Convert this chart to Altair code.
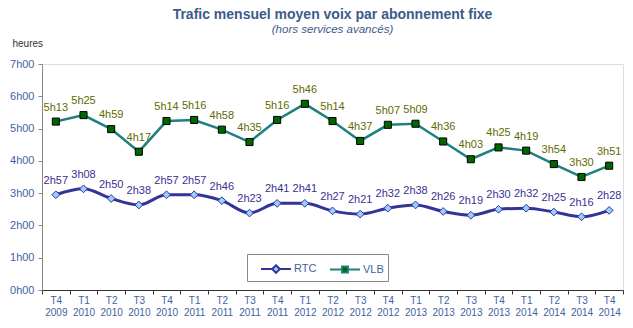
import altair as alt
import pandas as pd

periods = ["T4 2009", "T1 2010", "T2 2010", "T3 2010", "T4 2010", "T1 2011", "T2 2011",
           "T3 2011", "T4 2011", "T1 2012", "T2 2012", "T3 2012", "T4 2012", "T1 2013",
           "T2 2013", "T3 2013", "T4 2013", "T1 2014", "T2 2014", "T3 2014", "T4 2014"]
rtc_labels = ["2h57", "3h08", "2h50", "2h38", "2h57", "2h57", "2h46", "2h23", "2h41", "2h41",
              "2h27", "2h21", "2h32", "2h38", "2h26", "2h19", "2h30", "2h32", "2h25", "2h16", "2h28"]
vlb_labels = ["5h13", "5h25", "4h59", "4h17", "5h14", "5h16", "4h58", "4h35", "5h16", "5h46",
              "5h14", "4h37", "5h07", "5h09", "4h36", "4h03", "4h25", "4h19", "3h54", "3h30", "3h51"]
series_names = ["RTC", "VLB"]


def to_hours(s):
    h, m = s.split("h")
    return int(h) + int(m) / 60.0


rows = []
for p, r, v in zip(periods, rtc_labels, vlb_labels):
    rows.append({"period": p, "series": "RTC", "hours": to_hours(r), "label": r})
    rows.append({"period": p, "series": "VLB", "hours": to_hours(v), "label": v})
df = pd.DataFrame(rows)

FONT = "Liberation Sans"
NAVY = "#333399"
TEAL = "#1F8080"

x_enc = alt.X("period:N", sort=periods, scale=alt.Scale(paddingInner=0, paddingOuter=0),
              axis=alt.Axis(title=None,
                            labelExpr="isValid(datum.value) ? split(datum.value, ' ') : ''",
                            labelAngle=0, tickBand="extent", labelFontSize=10,
                            labelColor="#3F5F9F", labelFont=FONT, domainColor="#333333",
                            tickColor="#333333", tickSize=4, labelPadding=1,
                            labelLineHeight=12))
y_enc = alt.Y("hours:Q", scale=alt.Scale(domain=[0, 7], nice=False),
              axis=alt.Axis(values=[0, 1, 2, 3, 4, 5, 6, 7], labelExpr="datum.value + 'h00'",
                            grid=False, title="heures", titleAngle=0, titleAlign="left",
                            titleX=-30, titleY=-16, titleFontWeight="normal", titleFontSize=10,
                            titleColor="#333333", titleFont=FONT,
                            labelFontSize=11, labelColor="#3F5F9F", labelFont=FONT,
                            domainColor="#888888", tickColor="#888888", tickSize=4,
                            labelPadding=4))

base = alt.Chart(df).encode(x=x_enc, y=y_enc)
rtc = base.transform_filter("datum.series == 'RTC'")
vlb = base.transform_filter("datum.series == 'VLB'")

rtc_line = rtc.mark_line(color=NAVY, strokeWidth=3, interpolate="monotone")
vlb_line = vlb.mark_line(color=TEAL, strokeWidth=2.5)
rtc_pts = rtc.mark_point(shape="diamond", filled=True, fill="#99CCFF", stroke=NAVY,
                         strokeWidth=1, size=60, opacity=1)
vlb_pts = vlb.mark_point(shape="square", filled=True, fill="#006600", stroke="#000000",
                         strokeWidth=1, size=50, opacity=1)
rtc_txt = rtc.mark_text(dy=-14, font=FONT, fontSize=11, color="#3B2F8F").encode(text="label:N")
vlb_txt = vlb.mark_text(dy=-14, font=FONT, fontSize=11, color="#5F6A00").encode(text="label:N")

legend_layer = base.mark_point(opacity=0, filled=True).encode(
    shape=alt.Shape("series:N", scale=alt.Scale(
        domain=series_names,
        range=["M-0.1,0L1.02,0M1.78,0L2.9,0M1.4,-0.38L1.78,0L1.4,0.38L1.02,0Z",
               "M-0.1,0L1.1,0M1.7,0L2.9,0M1.1,-0.3L1.7,-0.3L1.7,0.3L1.1,0.3Z"]),
        legend=alt.Legend(title=None, orient="none", legendX=205, legendY=190,
                          direction="horizontal", strokeColor="#888888", padding=4,
                          symbolSize=400, symbolStrokeWidth=2, symbolOpacity=1,
                          labelFont=FONT, labelFontSize=11, labelColor="#3F5F9F",
                          columnPadding=3, labelOffset=21)),
    fill=alt.Fill("series:N", scale=alt.Scale(domain=series_names, range=["#99CCFF", "#006600"]),
                  legend=None),
    stroke=alt.Stroke("series:N", scale=alt.Scale(domain=series_names, range=[NAVY, TEAL]),
                      legend=None),
)

chart = alt.layer(rtc_line, vlb_line, rtc_pts, vlb_pts, rtc_txt, vlb_txt, legend_layer).properties(
    width=581, height=226,
    autosize=alt.AutoSizeParams(type="none"),
    padding={"left": 42, "top": 64, "right": 10, "bottom": 38},
    title=alt.TitleParams(text="Trafic mensuel moyen voix par abonnement fixe",
                          subtitle="(hors services avancés)", anchor="middle",
                          font=FONT, fontSize=14, fontWeight="bold", color="#3B5B8B",
                          subtitleFont=FONT, subtitleFontSize=11.5, subtitleFontStyle="italic",
                          subtitleColor="#3B5B8B", subtitlePadding=2, offset=3),
).configure_view(stroke=None).configure(background="white")

chart.save("out.html", embed_options={"renderer": "svg", "actions": False})
